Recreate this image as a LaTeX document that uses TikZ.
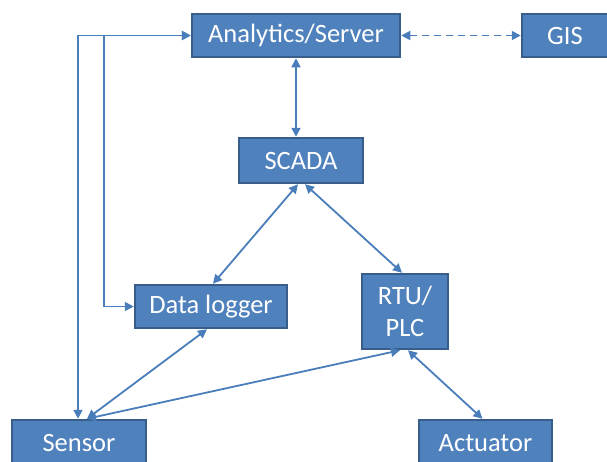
\documentclass[tikz,border=0pt]{standalone}
\usepackage{fontspec}
\setmainfont{Carlito}
\usepackage{tikz}
\usetikzlibrary{arrows.meta}

\definecolor{boxfill}{HTML}{4F81BD}
\definecolor{boxline}{HTML}{385D8A}
\definecolor{wire}{HTML}{4A7EBB}

\tikzset{
    box/.style={draw=boxline, fill=boxfill, line width=2.5pt, text=white,
        inner sep=0pt, align=center,
        font=\fontsize{26.5}{32}\selectfont},
    link/.style={draw=wire, line width=1.8pt,
        {Triangle[length=9pt,width=9pt]}-{Triangle[length=9pt,width=9pt]}},
}

\begin{document}
\begin{tikzpicture}[x=1pt, y=-1pt]
    \clip (0,0) rectangle (607,461);
    \node[box, minimum width=208pt, minimum height=43pt] at(296,35.5)(serv){Analytics/Server};
    \node[box, minimum width=86pt, minimum height=43pt] at(565,35.5)(gis){GIS};
    \node[box, minimum width=124pt, minimum height=45pt] at(301,160.5)(scada){SCADA};
    \node[box, minimum width=152pt, minimum height=43pt] at(211,306.5)(logger){Data logger};
    \node[box, minimum width=86pt, minimum height=75pt] at(405,311.5)(rtu){RTU/\\PLC};
    \node[box, minimum width=134pt, minimum height=46pt] at(79,443)(sensor){Sensor};
    \node[box, minimum width=133pt, minimum height=46pt] at(485.5,443)(act){Actuator};
    % top row
    \draw[link] (serv.south) -- (serv.south |- scada.north);
    \draw[link, dash pattern=on 7pt off 5pt] (serv.east) -- (gis.west);
    % scada to field
    \draw[link] ([xshift=-3pt]scada.south) -- ([xshift=2pt]logger.north);
    \draw[link] ([xshift=4pt]scada.south) -- ([xshift=-3pt]rtu.north);
    \draw[link] ([xshift=-4pt]logger.south) -- ([xshift=8pt]sensor.north);
    \draw[link] ([xshift=-5pt]rtu.south) -- ([xshift=8pt]sensor.north);
    \draw[link] ([xshift=3pt]rtu.south) -- ([xshift=-3pt]act.north);
    % side lines up to server
    \draw[link] ([xshift=-1pt]sensor.north) |- (serv.west);
    \draw[link] (logger.west) -- ++(-30,0) |- (serv.west);
\end{tikzpicture}
\end{document}
